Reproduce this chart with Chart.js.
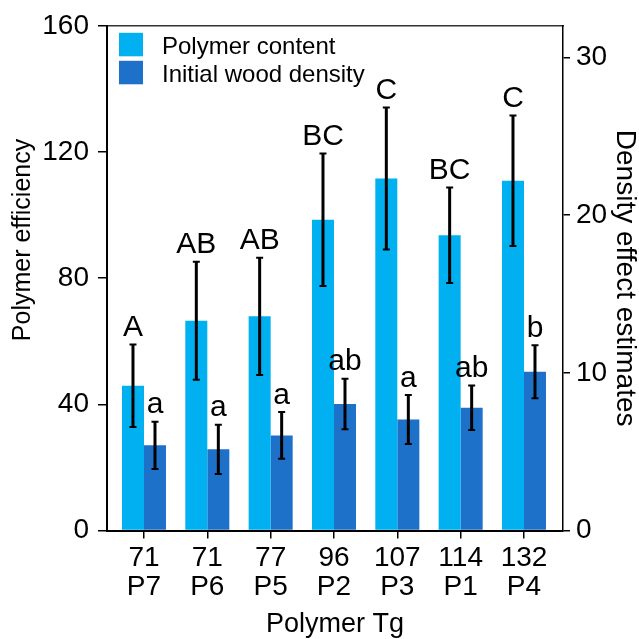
<!DOCTYPE html>
<html>
<head>
<meta charset="utf-8">
<script src="https://cdn.jsdelivr.net/npm/chart.js@4.4.1/dist/chart.umd.min.js"></script>
<style>
  html, body { margin: 0; padding: 0; background: #fff; }
  #c { display: block; }
</style>
</head>
<body>
<canvas id="c" width="639" height="639"></canvas>
<script>
// Polymer treatments, ordered by glass transition temperature
const tgLabels = ['71', '71', '77', '96', '107', '114', '132'];
const polymerNames = ['P7', 'P6', 'P5', 'P2', 'P3', 'P1', 'P4'];

// Polymer efficiency (left axis) with error half-widths
const polymerContent = [45.9, 66.5, 67.9, 98.5, 111.6, 93.6, 110.9];
const polymerContentErr = [13.1, 18.7, 18.6, 21.0, 22.5, 15.1, 20.7];

// Density effect estimates (right axis) with error half-widths
const woodDensity = [5.40, 5.15, 6.03, 8.02, 7.04, 7.78, 10.07];
const woodDensityErr = [1.50, 1.56, 1.48, 1.60, 1.55, 1.41, 1.68];

// Significance groups shown above each bar
const contentGroups = ['A', 'AB', 'AB', 'BC', 'C', 'BC', 'C'];
const densityGroups = ['a', 'a', 'a', 'ab', 'a', 'ab', 'b'];

// Axis tick values
const leftTicks = [0, 40, 80, 120, 160];
const rightTicks = [0, 10, 20, 30];

const FONT = '"Liberation Sans", Arial, sans-serif';
const LIGHT = '#00B0F0';
const DARK = '#1E71C9';

// Error whiskers and group letters, positioned through each dataset's own value scale
const errorBars = {
  id: 'errorBars',
  afterDatasetsDraw(chart) {
    const ctx = chart.ctx;
    chart.data.datasets.forEach((ds, di) => {
      const meta = chart.getDatasetMeta(di);
      const scale = chart.scales[meta.yAxisID];
      meta.data.forEach((bar, i) => {
        const v = ds.data[i].y;
        const e = ds.errors[i];
        const yTop = scale.getPixelForValue(v + e);
        const yBot = scale.getPixelForValue(v - e);
        const x = bar.x;
        ctx.save();
        ctx.strokeStyle = '#000';
        ctx.lineWidth = 3;
        ctx.beginPath();
        ctx.moveTo(x, yTop);
        ctx.lineTo(x, yBot);
        ctx.stroke();
        ctx.lineWidth = 2;
        ctx.beginPath();
        ctx.moveTo(x - 3.5, yTop); ctx.lineTo(x + 3.5, yTop);
        ctx.moveTo(x - 3.5, yBot); ctx.lineTo(x + 3.5, yBot);
        ctx.stroke();
        ctx.fillStyle = '#000';
        ctx.font = '30px ' + FONT;
        ctx.textAlign = 'center';
        ctx.textBaseline = 'alphabetic';
        ctx.fillText(ds.groups[i], x, yTop - 8.5);
        ctx.restore();
      });
    });
  }
};

// Stacked legend in the upper-left corner of the plot, plus the left axis title
const cornerLegend = {
  id: 'cornerLegend',
  afterDraw(chart) {
    const ctx = chart.ctx;
    const area = chart.chartArea;
    const x0 = area.left + 12;
    const rows = [area.top + 7, area.top + 35];
    chart.data.datasets.forEach((ds, i) => {
      ctx.save();
      ctx.fillStyle = ds.backgroundColor;
      ctx.fillRect(x0, rows[i], 24, 23.5);
      ctx.fillStyle = '#000';
      ctx.font = '24px ' + FONT;
      ctx.textAlign = 'left';
      ctx.textBaseline = 'alphabetic';
      ctx.fillText(ds.label, x0 + 43, rows[i] + 21);
      ctx.restore();
    });

    ctx.save();
    ctx.translate(23, 240);
    ctx.rotate(-Math.PI / 2);
    ctx.fillStyle = '#000';
    ctx.font = '25px ' + FONT;
    ctx.textAlign = 'center';
    ctx.textBaseline = 'middle';
    ctx.fillText('Polymer efficiency', 0, 0);
    ctx.restore();
  }
};

new Chart(document.getElementById('c'), {
  type: 'bar',
  data: {
    datasets: [
      {
        label: 'Polymer content',
        data: polymerContent.map((v, i) => ({ x: i, y: v })),
        errors: polymerContentErr,
        groups: contentGroups,
        backgroundColor: LIGHT,
        yAxisID: 'y'
      },
      {
        label: 'Initial wood density',
        data: woodDensity.map((v, i) => ({ x: i, y: v })),
        errors: woodDensityErr,
        groups: densityGroups,
        backgroundColor: DARK,
        yAxisID: 'y2'
      }
    ]
  },
  options: {
    responsive: false,
    animation: false,
    devicePixelRatio: 1,
    categoryPercentage: 0.695,
    barPercentage: 1.0,
    layout: { padding: { top: 22.5, left: 0, right: 0, bottom: 0 } },
    plugins: {
      legend: { display: false },
      tooltip: { enabled: false }
    },
    scales: {
      x: {
        type: 'linear',
        position: 'bottom',
        min: -0.584,
        max: 6.616,
        offset: false,
        afterBuildTicks: s => { s.ticks = tgLabels.map((_, i) => ({ value: i })); },
        afterFit: s => { s.height = 108.5; },
        grid: { display: true, drawOnChartArea: false, drawTicks: true, tickLength: 8, color: '#000', lineWidth: 1.5, offset: false },
        border: { display: true, color: '#000', width: 2 },
        ticks: {
          color: '#000',
          font: { family: FONT, size: 28, lineHeight: 1.04 },
          padding: 5,
          maxRotation: 0,
          autoSkip: false,
          callback: v => [tgLabels[v], polymerNames[v]]
        },
        title: { display: true, text: 'Polymer Tg', color: '#000', font: { family: FONT, size: 27, lineHeight: 1 }, padding: { top: 0, bottom: 0.5 } }
      },
      top: {
        type: 'linear',
        position: 'top',
        display: true,
        afterFit: s => { s.height = 0; },
        ticks: { display: false },
        grid: { display: false },
        border: { display: true, color: '#333', width: 1.5 }
      },
      y: {
        type: 'linear',
        position: 'left',
        min: 0,
        max: 160,
        afterBuildTicks: s => { s.ticks = leftTicks.map(v => ({ value: v })); },
        afterFit: s => { s.width = 107; },
        grid: { display: true, drawOnChartArea: false, drawTicks: true, tickLength: 9, color: '#000', lineWidth: 1.5 },
        border: { display: true, color: '#000', width: 2 },
        ticks: { color: '#000', font: { family: FONT, size: 28 }, padding: 9 }
      },
      y2: {
        type: 'linear',
        position: 'right',
        min: 0,
        max: 32,
        afterBuildTicks: s => { s.ticks = rightTicks.map(v => ({ value: v })); },
        afterFit: s => { s.width = 76; },
        grid: { display: true, drawOnChartArea: false, drawTicks: true, tickLength: 7, color: '#000', lineWidth: 1.5 },
        border: { display: true, color: '#000', width: 1.5 },
        ticks: { color: '#000', font: { family: FONT, size: 28 }, padding: 6 },
        title: { display: true, text: 'Density effect estimates', color: '#000', font: { family: FONT, size: 28, lineHeight: 1 }, padding: { top: 0.5, bottom: 0 } }
      }
    }
  },
  plugins: [errorBars, cornerLegend]
});
</script>
</body>
</html>
